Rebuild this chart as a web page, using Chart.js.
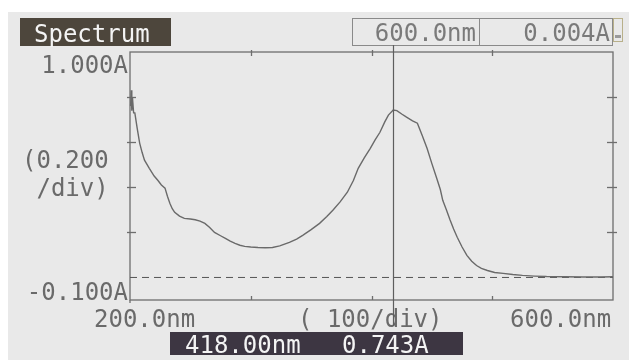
<!DOCTYPE html>
<html>
<head>
<meta charset="utf-8">
<script src="https://cdn.jsdelivr.net/npm/chart.js@4.4.0/dist/chart.umd.min.js"></script>
<style>
html,body{margin:0;padding:0;background:#fff;}
canvas{display:block;}
</style>
</head>
<body>
<canvas id="c" width="629" height="360"></canvas>
<script>
// ---- data ----
const wavelengths = [200.5,201,201.5,202,203,204,206,208,210,212,216,220,223,226,229,231,233,235,237,241,245,250,254,258,262,266,270,275,279,283,287,291,295,300,306,312,318,324,328,332,338,343,350,357,363,368,374,380,385,389,394,399,403,407,411,414,418,421,425,429,434,438,442,446,450,454,457,459,462,465,468,471,475,479,483,487,491,496,502,509,517,525,535,545,560,575,590,600];
const absorbance = [0.76,0.83,0.74,0.80,0.73,0.73,0.66,0.596,0.555,0.52,0.484,0.45,0.431,0.41,0.396,0.36,0.329,0.305,0.289,0.272,0.262,0.259,0.256,0.25,0.24,0.222,0.2,0.185,0.173,0.161,0.151,0.143,0.138,0.135,0.133,0.132,0.133,0.14,0.148,0.156,0.17,0.187,0.212,0.24,0.27,0.298,0.335,0.378,0.43,0.484,0.53,0.573,0.61,0.644,0.69,0.72,0.743,0.74,0.725,0.711,0.695,0.684,0.63,0.573,0.505,0.44,0.39,0.342,0.30,0.256,0.215,0.178,0.135,0.098,0.072,0.053,0.04,0.031,0.022,0.018,0.013,0.009,0.006,0.004,0.003,0.002,0.002,0.003];
const baselineX = [200,600];
const baselineY = [0,0];
const xTicks = [300,400,500];
const yTicks = [0.8,0.6,0.4,0.2];
const xMin = 200, xMax = 600, yMin = -0.1, yMax = 1.0;
const cursorNm = 418;
const titleText = 'Spectrum';
const headerTexts = ['600.0nm','0.004A'];
const yLabels = ['1.000A','(0.200',' /div)','-0.100A'];
const xLabels = ['200.0nm','( 100/div)','600.0nm'];
const cursorTexts = ['418.00nm','0.743A'];

const FONT = '24px "DejaVu Sans Mono", "Liberation Mono", monospace';

const panel = {
  id: 'panel',
  beforeDraw(chart){
    const {ctx, chartArea:a, scales:{x,y}} = chart;
    ctx.save();
    ctx.fillStyle = '#ffffff'; ctx.fillRect(0,0,629,360);
    ctx.fillStyle = '#e9e9e9'; ctx.fillRect(8,12,621,348);
    ctx.strokeStyle = '#6e6e6e'; ctx.lineWidth = 1.3;
    ctx.strokeRect(a.left, a.top, a.right-a.left, a.bottom-a.top);
    const ln=(x1,y1,x2,y2)=>{ctx.beginPath();ctx.moveTo(x1,y1);ctx.lineTo(x2,y2);ctx.stroke();};
    xTicks.forEach(v=>{const p=Math.round(x.getPixelForValue(v))+0.5; ln(p,a.top-2,p,a.top+4); ln(p,a.bottom-4,p,a.bottom);});
    yTicks.forEach(v=>{const p=Math.round(y.getPixelForValue(v))+0.5; ln(a.left-3,p,a.left+6,p); ln(a.right-6,p,a.right+4,p);});
    ln(a.left, a.bottom, a.left, a.bottom+3);
    // header boxes
    ctx.strokeStyle = '#8a8a8a'; ctx.lineWidth = 1;
    ctx.strokeRect(352.5,18.5,127,27);
    ctx.strokeRect(479.5,18.5,133,27);
    // icon
    ctx.strokeStyle = '#b8b08a';
    ctx.strokeRect(613.5,18.5,9,23);
    ctx.fillStyle = '#9a9a9a'; ctx.fillRect(615,35,6,3);
    // title box
    ctx.fillStyle = '#4d463c'; ctx.fillRect(20,18,151,28);
    // cursor box
    ctx.fillStyle = '#3d3642'; ctx.fillRect(170,332,293,23);
    ctx.font = FONT; ctx.textBaseline = 'alphabetic';
    ctx.fillStyle = '#f4f4f4';
    ctx.textAlign = 'left';
    ctx.fillText(titleText, 34, 42);
    ctx.fillText(cursorTexts[0], 185, 353);
    ctx.fillText(cursorTexts[1], 342, 353);
    ctx.fillStyle = '#7a7a7a';
    ctx.textAlign = 'right';
    ctx.fillText(headerTexts[0], 476, 41);
    ctx.fillText(headerTexts[1], 610, 41);
    ctx.fillStyle = '#6a6a6a';
    ctx.fillText(yLabels[0], 128, 73);
    ctx.textAlign = 'left';
    ctx.fillText(yLabels[1], 22, 168);
    ctx.fillText(yLabels[2], 22, 196);
    ctx.textAlign = 'right';
    ctx.fillText(yLabels[3], 128, 300);
    ctx.textAlign = 'left';
    ctx.fillText(xLabels[0], 94, 327);
    ctx.fillText(xLabels[1], 298, 327);
    ctx.fillText(xLabels[2], 510, 327);
    ctx.restore();
  },
  afterDatasetsDraw(chart){
    const {ctx, scales:{x}} = chart;
    const p = Math.round(x.getPixelForValue(cursorNm))+0.5;
    ctx.save();
    ctx.strokeStyle = '#5e5e5e'; ctx.lineWidth = 1.2;
    ctx.beginPath(); ctx.moveTo(p,45); ctx.lineTo(p,326); ctx.stroke();
    ctx.restore();
  }
};

new Chart(document.getElementById('c'), {
  type: 'line',
  data: {
    datasets: [
      {
        data: wavelengths.map((w,i)=>({x:w, y:absorbance[i]})),
        borderColor: '#6a6a6a', borderWidth: 1.4, pointRadius: 0, tension: 0, fill: false, clip: false
      },
      {
        data: baselineX.map((w,i)=>({x:w, y:baselineY[i]})),
        borderColor: '#555555', borderWidth: 1, borderDash: [7,5], pointRadius: 0, fill: false
      }
    ]
  },
  options: {
    responsive: false,
    devicePixelRatio: 1,
    animation: false,
    events: [],
    layout: { padding: { left: 130, top: 52, right: 16, bottom: 60 } },
    plugins: { legend: {display:false}, tooltip: {enabled:false}, title:{display:false} },
    scales: {
      x: { type: 'linear', min: xMin, max: xMax, display: false },
      y: { type: 'linear', min: yMin, max: yMax, display: false }
    }
  },
  plugins: [panel]
});
</script>
</body>
</html>
